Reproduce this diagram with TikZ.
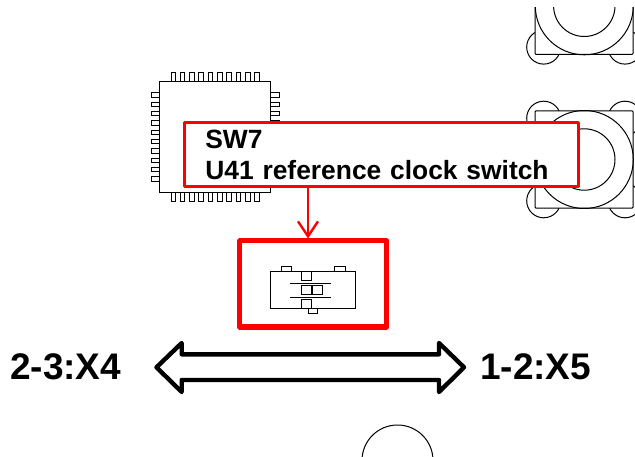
\documentclass[tikz,border=0pt]{standalone}
\usepackage{fontspec}
\setmainfont{Liberation Sans}
\usetikzlibrary{arrows.meta}
\tikzset{
  thin line/.style={draw=black,line width=1pt},
  pin line/.style={draw=black,line width=1pt,fill=white},
  ic line/.style={draw=black,line width=1.3pt,fill=white},
  big label/.style={font=\bfseries\fontsize{37}{40}\selectfont,inner sep=0pt,anchor=base west},
  labelbox/.style={draw=red,line width=3pt,fill=white,line join=round,minimum width=394pt,minimum height=64pt,
     inner xsep=21pt,inner ysep=0pt,text width=352pt,align=left,font=\bfseries\fontsize{26.4}{31}\selectfont},
  switchbox/.style={draw=red,line width=5pt,line join=round,minimum width=147pt,minimum height=86pt,inner sep=0pt},
  block arrow/.style={draw=black,line width=4.4pt,line join=round,fill=white},
  pointer/.style={draw=red,line width=2.4pt,-{Straight Barb[length=15pt,width=20pt,line width=2.4pt]}}
}
\newcommand{\padcomp}[1]{%
  \begin{scope}
    \clip (520,8) rectangle (635,457);
    \foreach \cx in {543.7,625}\foreach \cy in {-41.3,41.3}
      \draw[thin line] (\cx,#1+\cy) circle[radius=17pt];
    \draw[thin line,fill=white,rounded corners=1pt] (535,#1-48.7) rectangle (633,#1+48.7);
    \draw[thin line] (584.3,#1) circle[radius=49pt];
    \draw[thin line] (584.3,#1) circle[radius=30.7pt];
  \end{scope}}
\begin{document}
\begin{tikzpicture}[x=1pt,y=-1pt]
\useasboundingbox (0,0) rectangle (635,457);
% pad components
\padcomp{5.8}
\padcomp{159.5}
% IC
\foreach \i in {0,...,9}{
  \draw[pin line] (171+\i*9.33,73) rectangle ++(4.6,9);
  \draw[pin line] (171+\i*9.33,192.7) rectangle ++(4.6,8.6);
  \draw[pin line] (151,92.7+\i*9.33) rectangle ++(8.6,4.6);
  \draw[pin line] (270.7,92.7+\i*9.33) rectangle ++(9,4.6);
}
\draw[ic line] (159.5,81.7) rectangle (270.7,192.7);
% switch
\node[switchbox] (sw) at (313.3,284) {};
\draw[thin line,fill=white] (281,266.7) rectangle (291,271.3);
\draw[thin line,fill=white] (334.7,266.7) rectangle (345,271.3);
\draw[thin line] (270.7,271.3) rectangle (355.7,309);
\draw[thin line] (301.7,271.3) rectangle (311,281);
\draw[thin line] (301.7,285.3) rectangle (311,295);
\draw[thin line] (312.7,285.3) rectangle (322.3,295);
\draw[thin line] (301.7,299.3) rectangle (311,309);
\draw[thin line,fill=white] (308,309) rectangle (317.7,313.7);
\draw[thin line] (290,283.3) -- (330.7,283.3);
\draw[thin line] (290,297.7) -- (330.7,297.7);
% label
\node[labelbox] (label) at (381.3,154.8) {SW7\\U41 reference clock switch};
\draw[pointer] (label.south -| 308,0) -- (sw.north -| 308,0);
% double block arrow
\draw[block arrow] (156.5,367.3) -- (181.7,343) -- (181.7,354.3) -- (439,354.3) -- (439,343)
  -- (464,367.3) -- (439,392) -- (439,380) -- (181.7,380) -- (181.7,392) -- cycle;
\node[big label] (left) at (10,379) {2-3:X4};
\node[big label] (right) at (480,379) {1-2:X5};
% bottom circle
\begin{scope}
  \clip (340,420) rectangle (450,457);
  \draw[thin line] (397.5,460.5) circle[radius=35.5pt];
\end{scope}
\end{tikzpicture}
\end{document}
